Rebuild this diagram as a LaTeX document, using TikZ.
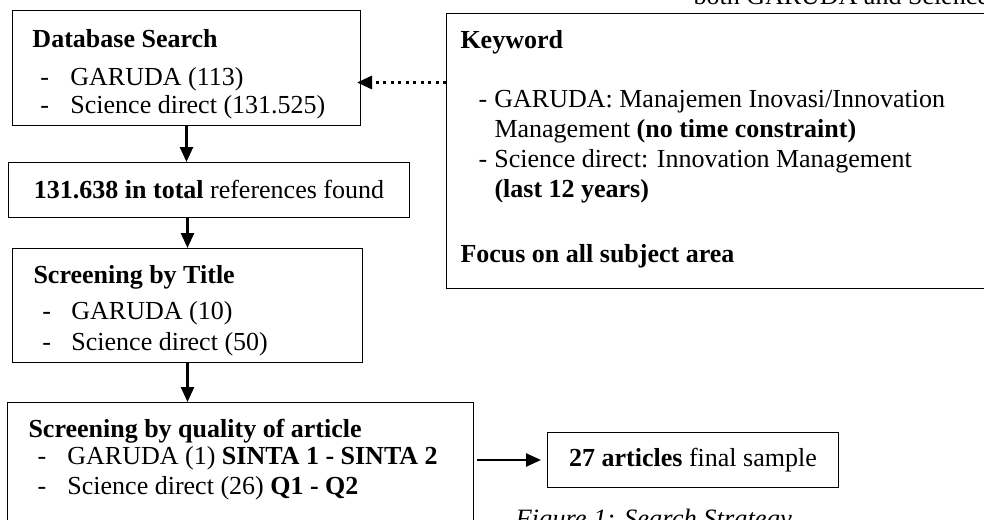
\documentclass[tikz,border=0pt]{standalone}
\usepackage{fontspec}
\setmainfont{Liberation Serif}
\usetikzlibrary{arrows.meta}
\tikzset{every edge/.style={draw, line width=2.5pt},
  >={Triangle[length=15pt,width=13pt]},
  box/.style={draw, line width=1pt, inner sep=0pt, anchor=north west, font=\fontsize{26}{28}\selectfont}}
\newcommand{\panel}[5]{\begin{minipage}[c][#2][t]{#1}\raggedright\setlength{\leftskip}{#4}\vspace*{#3}#5\end{minipage}}
\newcommand{\itemdash}[2]{\hspace*{#1}-\hspace*{#2}}

\begin{document}
\begin{tikzpicture}[x=1pt, y=-1pt]
    \useasboundingbox (0,0) rectangle (984,519);
    \clip (0,0) rectangle (984,519);

    \node[box] at (12,10) (db) {\panel{348pt}{115pt}{19pt}{20pt}{\textbf{Database Search}\\[10pt]
        \itemdash{8pt}{21.3pt}GARUDA (113)\\
        \itemdash{8pt}{21.3pt}Science direct (131.525)}};
    \node[box, minimum width=401pt, minimum height=55pt] at (8,162) (tot) {\textbf{131.638 in total} references found};
    \node[box] at (12,248) (title) {\panel{350pt}{114pt}{17pt}{21pt}{\textbf{Screening by Title}\\[8pt]
        \itemdash{9pt}{20.3pt}GARUDA (10)\\[3pt]
        \itemdash{9pt}{20.3pt}Science direct (50)}};
    \node[box] at (7,402) (qual) {\panel{466pt}{140pt}{17pt}{21pt}{\textbf{Screening by quality of article}\\[-1pt]
        \itemdash{9pt}{21.3pt}GARUDA (1) \textbf{SINTA 1 - SINTA 2}\\[2pt]
        \itemdash{9pt}{21.3pt}Science direct (26) \textbf{Q1 - Q2}}};
    \node[box, minimum width=291pt, minimum height=55pt] at (547,432) (final) {\textbf{27 articles} final sample};
    \node[box] at (446,13) (kw) {\panel{560pt}{275pt}{17pt}{14pt}{\textbf{Keyword}\\[31pt]
        \itemdash{18pt}{7.3pt}GARUDA: Manajemen Inovasi/Innovation\\[2pt]
        \hspace*{34pt}Management \textbf{(no time constraint)}\\[2pt]
        \itemdash{18pt}{7.3pt}Science direct: Innovation Management\\[2pt]
        \hspace*{34pt}\textbf{(last 12 years)}\\[37pt]
        \textbf{Focus on all subject area}}};

    \draw (db.south) edge[->] (db.south |- tot.north);
    \draw (title.north |- tot.south) edge[->] (title.north);
    \draw (title.south) edge[->] (title.south |- qual.north);
    \draw (final.west -| qual.east) edge[->, shorten <=3pt, shorten >=6pt] (final.west);
    \draw ([yshift=-14.5pt]db.east -| kw.west) edge[->, line width=3pt, dash pattern=on 3pt off 4.5pt, shorten >=-4pt] ([yshift=-14.5pt]db.east);

    % texte coupé en haut et légende
    \node[anchor=base west, font=\fontsize{26}{28}\selectfont] at (690,5) (head) {both GARUDA and Science};
    \node[anchor=base west, font=\fontsize{26.5}{28}\selectfont\itshape] at (512,527) (caption) {Figure 1: Search Strategy};
\end{tikzpicture}
\end{document}
